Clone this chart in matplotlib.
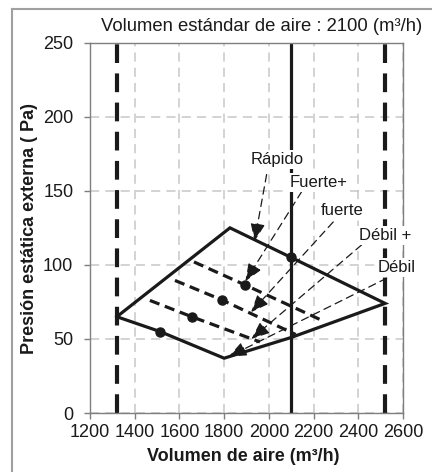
import matplotlib
matplotlib.use("Agg")
import matplotlib.pyplot as plt
from matplotlib.lines import Line2D

plt.rcParams["font.family"] = ["Liberation Sans", "DejaVu Sans"]

# Operating envelope of the unit (solid outline)
envelope_x = [1320, 1826, 2100, 2520, 2100, 1800, 1513, 1320]
envelope_y = [65, 125, 105, 74, 51, 37, 55, 65]

# Intermediate fan-speed curves (dashed)
fuerte_plus_x = [1665, 1893, 2245]
fuerte_plus_y = [102, 86.5, 62]
fuerte_x = [1580, 1789, 2120]
fuerte_y = [89.5, 76.4, 53]
debil_plus_x = [1468, 1655, 1960]
debil_plus_y = [76, 65, 48]

# Operating points on each speed curve
points_x = [2100, 1893, 1789, 1655, 1513]
points_y = [105, 86.5, 76.4, 65, 55]

# Air-flow limits and standard flow
limits_x = [1320, 2520]
standard_flow = 2100

# Speed labels and their pointer arrows
labels = ["Rápido", "Fuerte+", "fuerte", "Débil +", "Débil"]
label_x = [2036, 2224, 2327, 2519, 2571]
label_y = [171, 155.4, 136.5, 120, 98]
arrow_from_x = [1990, 2147, 2288, 2415, 2527]
arrow_from_y = [161, 149.5, 129, 113.5, 91]
arrow_to_x = [1936, 1895, 1920, 1922, 1820]
arrow_to_y = [116, 89, 68, 50, 38]

x_ticks = [1200, 1400, 1600, 1800, 2000, 2200, 2400, 2600]
y_ticks = [0, 50, 100, 150, 200, 250]

fig = plt.figure(figsize=(4.32, 4.72), dpi=100)
ax = fig.add_axes([90 / 432, 1 - 413 / 472, 313 / 432, 370.3 / 472])
ax.set_xlim(1200, 2600)
ax.set_ylim(0, 250)
ax.set_xticks(x_ticks)
ax.set_yticks(y_ticks)
ax.tick_params(axis="both", labelsize=13, colors="#7f7f7f", labelcolor="#1a1a1a",
               length=4, width=1)
ax.tick_params(axis="y", pad=8)
ax.tick_params(axis="x", pad=4)
for s in ax.spines.values():
    s.set_color("#7f7f7f")
    s.set_linewidth(1.0)

ax.grid(True, color="#c8c8c8", linewidth=1.1, linestyle=(0, (6, 4)), zorder=0)
ax.set_axisbelow(True)

# Flow limits and standard flow
for lx in limits_x:
    ax.axvline(lx, color="#1a1a1a", linewidth=3.0, linestyle=(0, (4.5, 2.5)), zorder=2)
ax.axvline(standard_flow, color="#1a1a1a", linewidth=2.3, zorder=2)

ax.plot(envelope_x, envelope_y, color="#1a1a1a", linewidth=2.3,
        solid_joinstyle="miter", zorder=2.2)
for cx, cy in [(fuerte_plus_x, fuerte_plus_y), (fuerte_x, fuerte_y),
               (debil_plus_x, debil_plus_y)]:
    ax.plot(cx, cy, color="#1a1a1a", linewidth=2.3, linestyle=(0, (3.2, 1.8)), zorder=2.2)
ax.plot(points_x, points_y, linestyle="none", marker="o", markersize=6.5,
        color="#1a1a1a", zorder=2.4)

for lab, tx, ty, fx, fy, ex, ey in zip(labels, label_x, label_y, arrow_from_x,
                                       arrow_from_y, arrow_to_x, arrow_to_y):
    ax.annotate("", xy=(ex, ey), xytext=(fx, fy),
                arrowprops=dict(arrowstyle="-|>,head_length=1.1,head_width=0.45",
                                color="#1a1a1a", lw=0.9, linestyle=(0, (6, 4)),
                                shrinkA=0, shrinkB=0), zorder=2.5)
    ax.text(tx, ty, lab, fontsize=12, ha="center", va="center", color="#1a1a1a",
            bbox=dict(facecolor="white", edgecolor="none", pad=1.5), zorder=3)

fig.text(261.5 / 432, 1 - 26.7 / 472, "Volumen estándar de aire : 2100 (m³/h)",
         fontsize=13.3, ha="center", va="center", color="#1a1a1a")
fig.text(243 / 432, 1 - 456.7 / 472, "Volumen de aire (m³/h)", fontsize=13,
         fontweight="bold", ha="center", va="center", color="#1a1a1a")
fig.text(29 / 432, 1 - 228 / 472, "Presión estática externa ( Pa)", fontsize=13,
         fontweight="bold", ha="center", va="center", rotation=90, color="#1a1a1a")

# Frame around the figure
fig.add_artist(Line2D([12 / 432, 12 / 432], [0, 1 - 9 / 472], transform=fig.transFigure,
                      color="#a0a0a0", linewidth=1.5))
fig.add_artist(Line2D([12 / 432, 1], [1 - 9 / 472, 1 - 9 / 472], transform=fig.transFigure,
                      color="#a0a0a0", linewidth=1.5))

fig.savefig("out.png", dpi=100)
